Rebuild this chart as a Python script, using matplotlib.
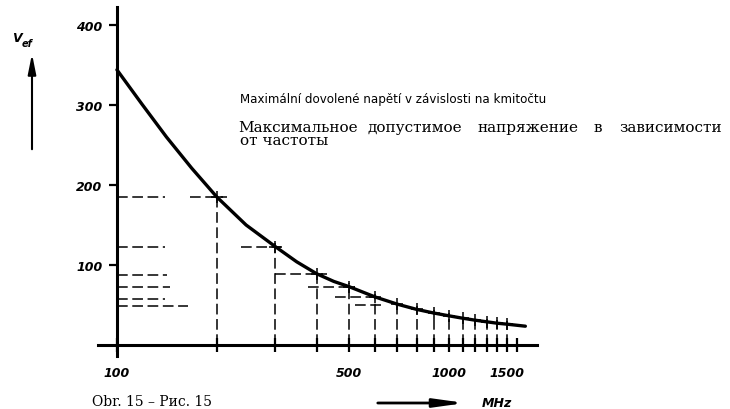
import matplotlib
matplotlib.use("Agg")
import matplotlib.pyplot as plt
from matplotlib.patches import FancyArrowPatch
from matplotlib.font_manager import FontProperties
from matplotlib.ticker import FixedLocator, FixedFormatter, NullFormatter

# curve (MHz, V)
freq_curve = [100, 119, 141, 168, 200, 245, 300, 348, 400, 450, 500, 600, 700, 800,
              900, 1000, 1100, 1200, 1300, 1400, 1500, 1700]
volt_curve = [344, 301, 260, 221, 185, 150, 123, 104, 89, 79.5, 73, 60, 51, 44.5,
              40, 36.5, 33.5, 31, 29, 27.2, 26, 23.5]

# construction lines: verticals dropped from the curve
mark_freq = [200, 300, 400, 500, 600, 700, 800, 900, 1000, 1100, 1200, 1300, 1400, 1500]
mark_volt = [185, 123, 89, 73, 60, 51, 44.5, 40, 36.5, 33.5, 31, 29, 27.2, 26]

# horizontal dashed pieces (start MHz, end MHz, V)
seg_start = [100, 166, 100, 237, 100, 300, 100, 376, 100, 453, 100, 520]
seg_end = [140, 214, 140, 314, 142, 430, 145, 520, 140, 620, 164, 640]
seg_volt = [185, 185, 122, 123, 87, 89, 72, 73, 57, 60, 49, 50]

x_major = [100, 500, 1000, 1500]
x_major_labels = ["100", "500", "1000", "1500"]
x_minor = [200, 300, 400, 600, 700, 800, 900, 1100, 1200, 1300, 1400, 1600]
y_ticks = [100, 200, 300, 400]
y_labels = ["100", "200", "300", "400"]

title_cz = "Maximální dovolené napětí v závislosti na kmitočtu"
title_ru_words = ["Максимальное", "допустимое", "напряжение", "в", "зависимости"]
title_ru_word_cx = [298, 415, 528, 598, 671]
title_ru_line2 = "от частоты"
caption = "Obr. 15 – Рис. 15"

W, H = 730, 410
tick_font = dict(family="DejaVu Sans", weight="bold", style="italic", size=9)

fig = plt.figure(figsize=(W / 100, H / 100), dpi=100)
ax = fig.add_axes([98 / W, 1 - 357 / H, 439 / W, 349 / H])
ax.set_xscale("log")
ax.set_xlim(87.7, 1843)
ax.set_ylim(-13.75, 422.5)
ax.patch.set_visible(False)

for side in ("top", "right"):
    ax.spines[side].set_visible(False)
ax.spines["left"].set_position(("data", 100))
ax.spines["bottom"].set_position(("data", 0))
ax.spines["left"].set_linewidth(2.2)
ax.spines["bottom"].set_linewidth(2.2)

ax.xaxis.set_major_locator(FixedLocator(x_major))
ax.xaxis.set_major_formatter(FixedFormatter(x_major_labels))
ax.xaxis.set_minor_locator(FixedLocator(x_minor))
ax.xaxis.set_minor_formatter(NullFormatter())
ax.yaxis.set_major_locator(FixedLocator(y_ticks))
ax.yaxis.set_major_formatter(FixedFormatter(y_labels))
ax.yaxis.set_minor_locator(FixedLocator([]))

ax.tick_params(axis="x", which="both", direction="inout", length=9.5, width=1.6, pad=10.4)
ax.tick_params(axis="y", which="major", direction="out", length=6, width=1.6, pad=4.3)
for lab in ax.get_xticklabels() + ax.get_yticklabels():
    lab.set_fontproperties(FontProperties(**tick_font))

dash = (0, (7, 3))
for s, e, v in zip(seg_start, seg_end, seg_volt):
    ax.plot([s, e], [v, v], ls=dash, lw=1.1, color="black")
for f, v in zip(mark_freq, mark_volt):
    ax.plot([f, f], [0, v + 4], ls=dash, lw=1.1, color="black")
ax.plot(mark_freq, mark_volt, ls="none", marker="+", ms=9, mew=1.1, color="black")

ax.plot(freq_curve, volt_curve, color="black", lw=2.4,
        solid_capstyle="round", solid_joinstyle="round")


def fx(px):
    return px / W


def fy(py):
    return 1 - py / H


fig.text(fx(240), fy(103), title_cz, family="DejaVu Sans", size=8.6, va="baseline")
for word, px in zip(title_ru_words, title_ru_word_cx):
    fig.text(fx(px), fy(132), word, family="DejaVu Serif", size=11,
             ha="center", va="baseline")
fig.text(fx(240), fy(145), title_ru_line2, family="DejaVu Serif", size=11, va="baseline")

fig.text(fx(92), fy(409), caption, family="DejaVu Serif", size=10, va="bottom")

# y label with upward arrow
fig.text(fx(12), fy(42), "V", ha="left", va="baseline", **tick_font)
fig.text(fx(22), fy(47), "ef", ha="left", va="baseline",
         family="DejaVu Sans", weight="bold", style="italic", size=7)
fig.add_artist(FancyArrowPatch(
    (fx(32), fy(153)), (fx(32), fy(52)), transform=fig.transFigure,
    arrowstyle="-|>,head_length=12,head_width=2.4", lw=1.5, color="black"))

# x label with rightward arrow
fig.add_artist(FancyArrowPatch(
    (fx(375), fy(404)), (fx(468), fy(404)), transform=fig.transFigure,
    arrowstyle="-|>,head_length=18,head_width=2.5", lw=2, color="black"))
fig.text(fx(482), fy(404), "MHz", ha="left", va="center", **tick_font)

fig.savefig("out.png", dpi=100)
